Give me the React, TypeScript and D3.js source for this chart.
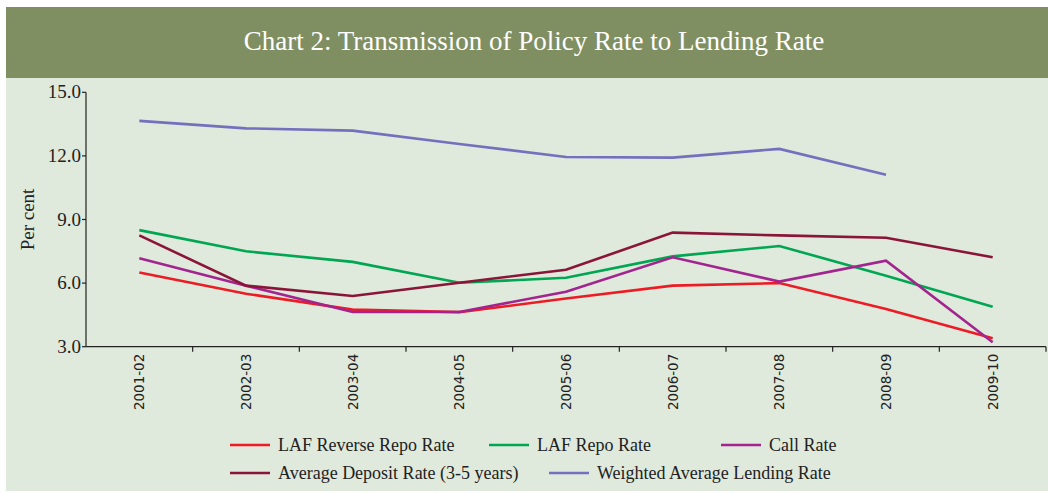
import React from "react";
import * as d3 from "d3";

const years = ["2001-02","2002-03","2003-04","2004-05","2005-06","2006-07","2007-08","2008-09","2009-10"];
const reverseRepo = [6.5, 5.5, 4.75, 4.63, 5.27, 5.88, 6.0, 4.78, 3.4];
const repo = [8.5, 7.5, 7.0, 6.02, 6.25, 7.26, 7.75, 6.35, 4.88];
const callRate = [7.17, 5.88, 4.64, 4.64, 5.59, 7.22, 6.07, 7.06, 3.21];
const depositRate = [8.25, 5.88, 5.39, 6.02, 6.63, 8.38, 8.25, 8.14, 7.22];
const lendingRate: (number | null)[] = [13.65, 13.3, 13.19, 12.56, 11.95, 11.92, 12.33, 11.11, null];
const yTicks = [3, 6, 9, 12, 15];

const seriesNames = ["LAF Reverse Repo Rate","LAF Repo Rate","Call Rate","Average Deposit Rate (3-5 years)","Weighted Average Lending Rate"];
const seriesColors = ["#ed1c24","#00a651","#a3248f","#8b1538","#7470be"];
const seriesValues = [reverseRepo, repo, callRate, depositRate, lendingRate];

export default function App() {
  const W = 1048, H = 494;
  const x0 = 86, x1 = 1046, yTop = 92.3, yBot = 346.7;
  const x = d3.scaleBand<string>().domain(years).range([x0, x1]);
  const y = d3.scaleLinear().domain([3, 15]).range([yBot, yTop]);
  const line = d3.line<number | null>()
    .defined(d => d !== null)
    .x((_, i) => (x(years[i]) as number) + x.bandwidth() / 2)
    .y(d => y(d as number));
  const serif = "'Liberation Serif', 'DejaVu Serif', serif";
  const legendPos = [
    { lx: 230, ly: 445 }, { lx: 489, ly: 445 }, { lx: 721, ly: 445 },
    { lx: 230, ly: 473 }, { lx: 549, ly: 473 },
  ];
  return (
    <svg width={W} height={H} style={{ position: "absolute", left: 0, top: 0 }}>
      <rect x={0} y={0} width={W} height={H} fill="#ffffff" />
      <rect x={6} y={7} width={W - 6} height={71} fill="#7f8f62" />
      <rect x={6} y={78} width={W - 6} height={413} fill="#dfe9dc" />
      <text x={534} y={50} textAnchor="middle" fill="#ffffff" fontFamily={serif} fontSize={27}>
        Chart 2: Transmission of Policy Rate to Lending Rate
      </text>
      {/* y axis */}
      <line x1={x0} x2={x0} y1={yTop} y2={yBot} stroke="#222" strokeWidth={1.2} />
      {yTicks.map(t => (
        <g key={t}>
          <line x1={x0 - 4} x2={x0} y1={y(t)} y2={y(t)} stroke="#222" strokeWidth={1.2} />
          <text x={x0 - 5} y={y(t) + 6} textAnchor="end" fontFamily={serif} fontSize={19} fill="#222">
            {t.toFixed(1)}
          </text>
        </g>
      ))}
      <text transform={`translate(34,${(yTop + yBot) / 2}) rotate(-90)`} textAnchor="middle"
        fontFamily={serif} fontSize={19} fill="#222">Per cent</text>
      {/* x axis */}
      <line x1={x0} x2={x1} y1={yBot} y2={yBot} stroke="#222" strokeWidth={1.2} />
      {years.map((yr, i) => (
        <line key={"t" + i} x1={x(yr)! + x.bandwidth()} x2={x(yr)! + x.bandwidth()} y1={yBot} y2={yBot + 5}
          stroke="#222" strokeWidth={1.2} />
      ))}
      {years.map(yr => (
        <text key={yr} transform={`translate(${x(yr)! + x.bandwidth() / 2 + 5},${yBot + 7}) rotate(-90)`}
          textAnchor="end" fontFamily="'DejaVu Sans', sans-serif" fontSize={13.5} fill="#222">{yr}</text>
      ))}
      {/* lines */}
      {seriesValues.map((vals, i) => (
        <path key={i} d={line(vals) || ""} fill="none" stroke={seriesColors[i]} strokeWidth={2.6} />
      ))}
      {/* legend */}
      {seriesNames.map((n, i) => (
        <g key={n}>
          <line x1={legendPos[i].lx} x2={legendPos[i].lx + 40} y1={legendPos[i].ly} y2={legendPos[i].ly}
            stroke={seriesColors[i]} strokeWidth={2.6} />
          <text x={legendPos[i].lx + 48} y={legendPos[i].ly + 6} fontFamily={serif} fontSize={18} fill="#222">{n}</text>
        </g>
      ))}
    </svg>
  );
}
